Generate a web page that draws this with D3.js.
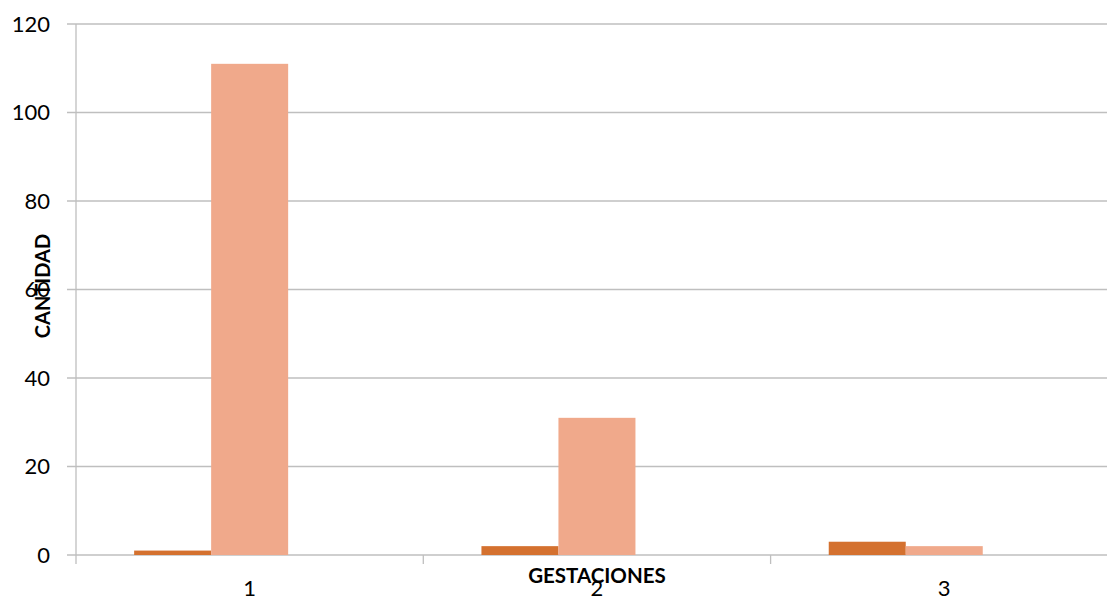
<!DOCTYPE html>
<html>
<head>
<meta charset="utf-8">
<script src="https://cdn.jsdelivr.net/npm/d3@7"></script>
<style>
  html, body { margin: 0; padding: 0; background: #fff; }
  svg { display: block; font-family: Lato, "Open Sans", sans-serif; }
</style>
</head>
<body>
<svg id="chart" width="1107" height="599"></svg>
<script>
// Categories (number of pregnancies) and the three series per category
const categories = ["1", "2", "3"];
const seriesNames = ["Serie 1", "Serie 2", "Serie 3"];
const serie1 = [1, 2, 3];
const serie2 = [111, 31, 2];
const serie3 = [0, 0, 0];
const yTicks = [0, 20, 40, 60, 80, 100, 120];

const seriesValues = [serie1, serie2, serie3];
const seriesColors = ["#D4712F", "#F0A98B", "#A5A5A5"];

const svg = d3.select("#chart");
const plotLeft = 76, plotTop = 24, plotBottom = 555;
const band = 347.3;
const plotRight = plotLeft + band * categories.length;

const x0 = d3.scaleBand().domain(categories).range([plotLeft, plotRight]).paddingInner(0).paddingOuter(0);
const x1 = d3.scaleBand().domain(seriesNames).range([0, x0.bandwidth()]).paddingInner(0).paddingOuter(0.755);
const y = d3.scaleLinear().domain([0, 120]).range([plotBottom, plotTop]);

const gridColor = "#BFBFBF";

// Horizontal gridlines with small outward ticks on the left
svg.append("g").selectAll("line").data(yTicks).join("line")
  .attr("x1", plotLeft - 9).attr("x2", 1107)
  .attr("y1", d => y(d)).attr("y2", d => y(d))
  .attr("stroke", gridColor).attr("stroke-width", 1.3);

// Y axis line
svg.append("line")
  .attr("x1", plotLeft).attr("x2", plotLeft)
  .attr("y1", plotTop).attr("y2", plotBottom + 9)
  .attr("stroke", gridColor).attr("stroke-width", 1.3);

// Category boundary ticks below the baseline
svg.append("g").selectAll("line").data(categories.slice(1)).join("line")
  .attr("x1", d => x0(d)).attr("x2", d => x0(d))
  .attr("y1", plotBottom).attr("y2", plotBottom + 9)
  .attr("stroke", gridColor).attr("stroke-width", 1.3);

// Bars
const rows = categories.map((c, i) => seriesNames.map((s, j) => ({ cat: c, s, v: seriesValues[j][i], j })));
svg.append("g").selectAll("g").data(rows).join("g")
  .attr("transform", d => `translate(${x0(d[0].cat)},0)`)
  .selectAll("rect").data(d => d).join("rect")
  .attr("x", d => x1(d.s))
  .attr("width", x1.bandwidth())
  .attr("y", d => y(d.v))
  .attr("height", d => y(0) - y(d.v))
  .attr("fill", d => seriesColors[d.j]);

// Y tick labels
svg.append("g").selectAll("text").data(yTicks).join("text")
  .attr("x", 50).attr("y", d => y(d))
  .attr("dy", "0.36em")
  .attr("text-anchor", "end")
  .attr("font-size", 22)
  .attr("fill", "#000")
  .text(d => d);

// Category labels
svg.append("g").selectAll("text").data(categories).join("text")
  .attr("x", d => x0(d) + x0.bandwidth() / 2)
  .attr("y", 596)
  .attr("text-anchor", "middle")
  .attr("font-size", 22)
  .attr("fill", "#000")
  .text(d => d);

// Axis titles
svg.append("text")
  .attr("x", x0("2") + x0.bandwidth() / 2)
  .attr("y", 583)
  .attr("text-anchor", "middle")
  .attr("font-size", 20.5)
  .attr("font-weight", "bold")
  .attr("fill", "#000")
  .text("GESTACIONES");

svg.append("text")
  .attr("transform", "translate(50,286) rotate(-90)")
  .attr("text-anchor", "middle")
  .attr("font-size", 20)
  .attr("font-weight", "bold")
  .attr("fill", "#000")
  .text("CANTIDAD");
</script>
</body>
</html>
